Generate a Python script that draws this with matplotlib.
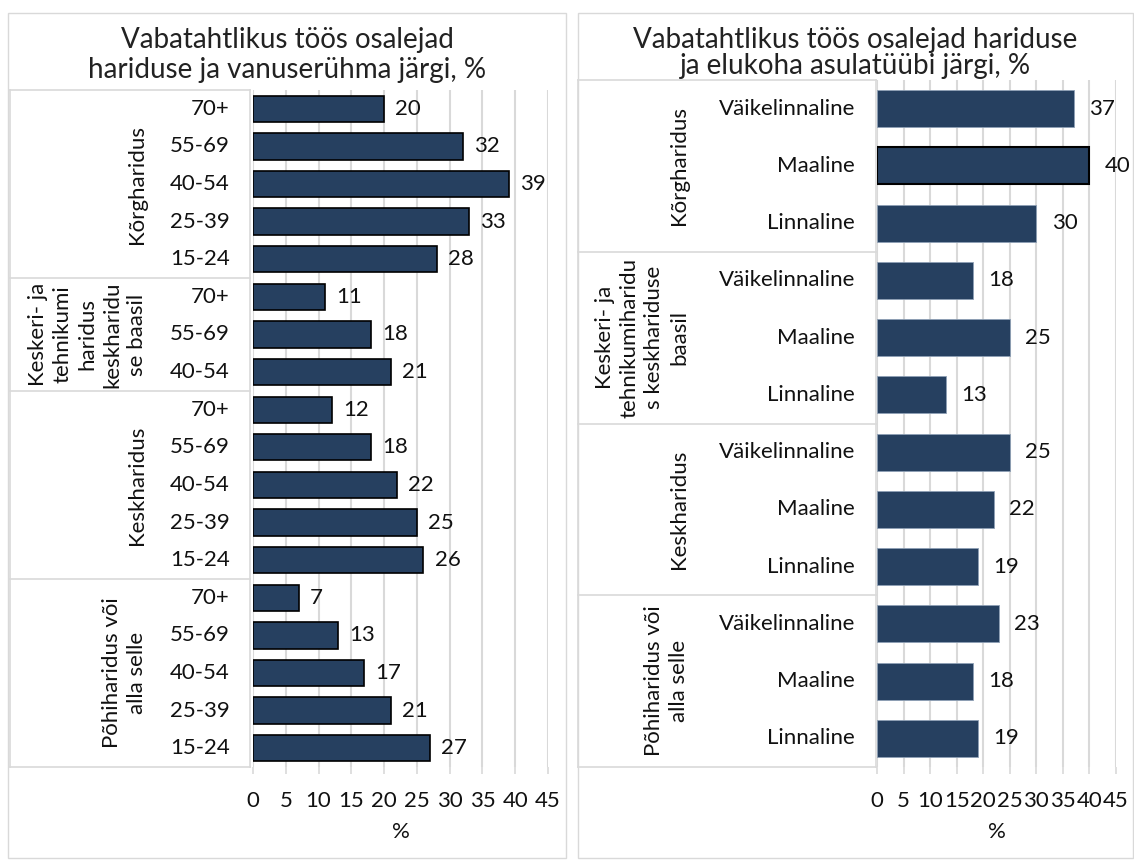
"""Vabatahtlikus töös osalejad – two grouped horizontal bar charts."""

import matplotlib
matplotlib.use("Agg")
import matplotlib.pyplot as plt
from matplotlib.lines import Line2D
from matplotlib.patches import Rectangle

plt.rcParams['font.family'] = ['Lato', 'DejaVu Sans']

# --- data -------------------------------------------------------------------
left_groups = [
    "Kõrgharidus",
    "Keskeri- ja\ntehnikumi\nharidus\nkeskharidu\nse baasil",
    "Keskharidus",
    "Põhiharidus või\nalla selle",
]
left_cats = [
    ["70+", "55-69", "40-54", "25-39", "15-24"],
    ["70+", "55-69", "40-54"],
    ["70+", "55-69", "40-54", "25-39", "15-24"],
    ["70+", "55-69", "40-54", "25-39", "15-24"],
]
left_vals = [
    [20, 32, 39, 33, 28],
    [11, 18, 21],
    [12, 18, 22, 25, 26],
    [7, 13, 17, 21, 27],
]

right_groups = [
    "Kõrgharidus",
    "Keskeri- ja\ntehnikumiharidu\ns keskhariduse\nbaasil",
    "Keskharidus",
    "Põhiharidus või\nalla selle",
]
right_cats = [["Väikelinnaline", "Maaline", "Linnaline"]] * 4
right_vals = [
    [37, 40, 30],
    [18, 25, 13],
    [25, 22, 19],
    [23, 18, 19],
]

left_title = "Vabatahtlikus töös osalejad\nhariduse ja vanuserühma järgi, %"
right_title = "Vabatahtlikus töös osalejad hariduse\nja elukoha asulatüübi järgi, %"

xticks = [0, 5, 10, 15, 20, 25, 30, 35, 40, 45]

BAR = "#264060"
GRID = "#d9d9d9"
FS = 16
W, H = 1134, 860

fig = plt.figure(figsize=(W / 100, H / 100), dpi=100)


def fx(px):
    return px / W


def fy(py):
    return 1 - py / H


def hline(x0, x1, y, **kw):
    fig.add_artist(Line2D([fx(x0), fx(x1)], [fy(y), fy(y)],
                          transform=fig.transFigure, color=GRID, lw=1.2, **kw))


def vline(x, y0, y1, **kw):
    fig.add_artist(Line2D([fx(x), fx(x)], [fy(y0), fy(y1)],
                          transform=fig.transFigure, color=GRID, lw=1.2, **kw))


def panel(groups, cats, vals, title, box, ax_px, table_x, group_x,
          label_x, title_y, title_ls, bar_h, edge_idx, label_off):
    # outer chart frame
    x0, y0, x1, y1 = box
    fig.add_artist(Rectangle((fx(x0), fy(y1)), fx(x1) - fx(x0), fy(y0) - fy(y1),
                             transform=fig.transFigure, fill=False,
                             edgecolor=GRID, lw=1.0))
    fig.text(fx((x0 + x1) / 2), fy(title_y), title, ha='center', va='center',
             fontsize=20, linespacing=title_ls, color='#222222')

    ax_l, ax_r, ax_t, ax_b = ax_px
    ax = fig.add_axes([fx(ax_l), fy(ax_b), fx(ax_r) - fx(ax_l), fy(ax_t) - fy(ax_b)])

    flat_labels = [c for g in cats for c in g]
    flat_vals = [v for g in vals for v in g]
    n = len(flat_vals)
    ypos = list(range(n))
    bars = ax.barh(ypos, flat_vals, height=bar_h, color=BAR,
                   edgecolor='black' if edge_idx is None else '#8ea0b5',
                   linewidth=1.2 if edge_idx is None else 0.6, zorder=3)
    if edge_idx is not None:
        bars[edge_idx].set_edgecolor('black')
        bars[edge_idx].set_linewidth(1.5)
    for y, v in zip(ypos, flat_vals):
        ax.annotate(str(v), (v, y), xytext=(label_off, 0), textcoords='offset points',
                    ha='left', va='center', fontsize=FS, color='#111111')

    ax.set_xlim(0, 45)
    ax.set_ylim(n - 0.5, -0.5)
    ax.set_xticks(xticks)
    ax.set_xticklabels([str(t) for t in xticks], fontsize=FS)
    ax.set_yticks([])
    ax.grid(axis='x', color=GRID, lw=1.5, zorder=0)
    for s in ax.spines.values():
        s.set_visible(False)
    ax.tick_params(axis='x', length=5, color=GRID, width=1.2, pad=12, labelcolor='#111111')
    ax.set_xlabel("%", fontsize=FS, labelpad=8, color='#111111')

    # category table on the left
    row_h = (ax_b - ax_t) / n
    tx0, tx1 = table_x
    vline(tx0, ax_t, ax_b)
    vline(tx1, ax_t, ax_b)
    hline(tx0, tx1, ax_t)
    start = 0
    for g, c in zip(groups, cats):
        end = start + len(c)
        hline(tx0, tx1, ax_t + end * row_h)
        fig.text(fx(group_x), fy(ax_t + (start + end) / 2 * row_h), g,
                 rotation=90, ha='right', va='center', multialignment='center',
                 fontsize=FS, linespacing=1.3, color='#111111')
        start = end
    for i, lab in enumerate(flat_labels):
        fig.text(fx(label_x), fy(ax_t + (i + 0.5) * row_h), lab,
                 ha='right', va='center', fontsize=FS, color='#111111')
    return ax


panel(left_groups, left_cats, left_vals, left_title,
      box=(8, 13, 566, 858), ax_px=(253, 548, 90, 767),
      table_x=(10, 250), group_x=147, label_x=230,
      title_y=55, title_ls=1.2, bar_h=0.7, edge_idx=None, label_off=8)

panel(right_groups, right_cats, right_vals, right_title,
      box=(578, 13, 1133, 858), ax_px=(877, 1116, 80, 767),
      table_x=(578, 876), group_x=689, label_x=855,
      title_y=53, title_ls=1.0, bar_h=0.65, edge_idx=1, label_off=11)

fig.savefig("out.png", dpi=100)
